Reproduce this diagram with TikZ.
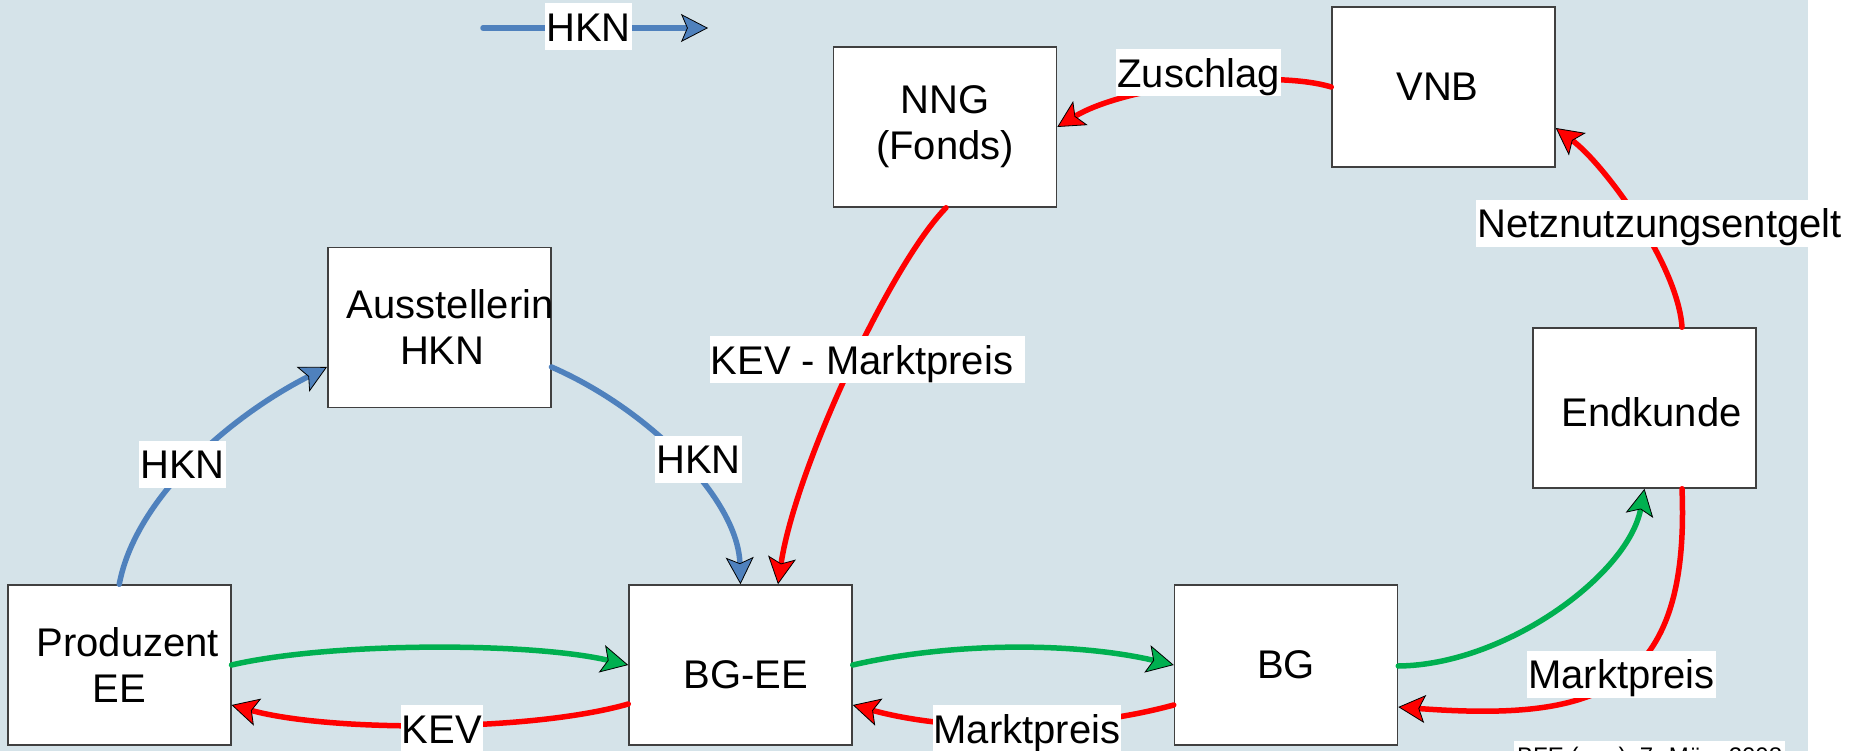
\documentclass[tikz,border=0pt]{standalone}
\usepackage{fontspec}
\setmainfont{Liberation Sans}
\usetikzlibrary{arrows.meta,calc}
\definecolor{bgblue}{RGB}{213,227,233}
\definecolor{pptred}{RGB}{255,0,0}
\definecolor{pptgreen}{RGB}{0,176,80}
\definecolor{pptblue}{RGB}{79,129,189}
\definecolor{boxgray}{RGB}{64,64,64}
\newcommand\dfont{\fontsize{40}{46}\selectfont}
\newcommand\sfont{\fontsize{24}{28}\selectfont}
\tikzset{
  box/.style={draw=boxgray, line width=1.5pt, fill=white, text width=223pt,
    minimum height=160pt, inner sep=0pt, align=center, font=\dfont},
  lbl/.style={fill=white, inner xsep=1pt, inner ysep=2pt, text height=36pt,
    text depth=7pt, font=\dfont},
  conn/.style={line width=5.5pt, line cap=round},
  redc/.style={conn, draw=pptred,
    -{Stealth[length=27pt,width=28pt,inset=6pt,line width=0.8pt,color=black,fill=pptred]}},
  greenc/.style={conn, draw=pptgreen,
    -{Stealth[length=27pt,width=28pt,inset=6pt,line width=0.8pt,color=black,fill=pptgreen]}},
  bluec/.style={conn, draw=pptblue,
    -{Stealth[length=27pt,width=28pt,inset=6pt,line width=0.8pt,color=black,fill=pptblue]}},
}
\begin{document}
\begin{tikzpicture}[x=1pt,y=-1pt]
\useasboundingbox (0,0) rectangle (1864,751);
\clip (0,0) rectangle (1864,751);
\fill[white] (0,0) rectangle (1864,751);
\fill[bgblue] (0,0) rectangle (1808,751);

% boxes
\node[box] (prod) at (119.25,665) {\hspace*{17pt}Produzent\\EE};
\node[box, text height=47pt, text depth=0pt] (bgee) at (740.5,665) {\hspace*{11pt}BG-EE};
\node[box] (bg) at (1286,665) {BG};
\node[box, text height=37pt, text depth=0pt] (endk) at (1644.5,408) {\hspace*{14pt}Endkunde};
\node[box] (vnb) at (1443.5,87) {\hspace*{-12pt}VNB};
\node[box] (nng) at (945,127) {NNG\\(Fonds)};
\node[box] (aus) at (439.25,327.5) {\hspace*{19pt}\mbox{Ausstellerin}\\\hspace*{6pt}HKN};

% legend
\coordinate (lgA) at (483,28);
\coordinate (lgB) at (708,28);
\draw[bluec] (lgA) -- (lgB);

% connectors
\draw[bluec] (prod.north) .. controls (135,500) and (227,418) .. ($(aus.west)+(0,39.5)$);
\draw[bluec] ($(aus.east)+(0,39.5)$) .. controls (650,410) and (738,500) .. (bgee.north);
\draw[redc] ($(nng.south)+(1,0)$) .. controls (890,265) and (795,470) .. ($(bgee.north)+(37.5,0)$);
\draw[redc] (vnb.west) .. controls (1272,69) and (1127,85) .. (nng.east);
\draw[redc] ($(endk.north)+(37.5,0)$) .. controls (1678,265) and (1605,165) .. ($(vnb.east)+(0,41)$);
\draw[greenc] ($(bg.east)+(0,1)$) .. controls (1505,665) and (1628,575) .. (endk.south);
\draw[redc] ($(endk.south)+(37.5,0)$) .. controls (1690,690) and (1600,722) .. ($(bg.east)+(0,42)$);
\draw[greenc] (prod.east) .. controls (330,642) and (530,642) .. (bgee.west);
\draw[greenc] (bgee.east) .. controls (952,642) and (1074,642) .. (bg.west);
\draw[redc] ($(bgee.west)+(0,39)$) .. controls (530,732) and (330,732) .. ($(prod.east)+(0,40)$);
\draw[redc] ($(bg.west)+(0,40)$) .. controls (1074,732) and (952,732) .. ($(bgee.east)+(0,40)$);

% labels
\node[lbl] (l1) at (588.5,27) {HKN};
\node[lbl] (l2) at (1198.5,73) {Zuschlag};
\node[lbl] (l3) at (182.5,464) {HKN};
\node[lbl] (l4) at (698.5,459) {HKN};
\node[lbl] (l5) at (867.5,359.5) {KEV - Marktpreis\hspace*{11pt}};
\node[lbl] (l6) at (1659.5,223.5) {Netznutzungsentgelt};
\node[lbl] (l7) at (1621.5,674) {Marktpreis};
\node[lbl] (l8) at (1027,728.5) {Marktpreis};
\node[lbl] (l9) at (442,728.5) {KEV};
\node[fill=white, font=\sfont, inner xsep=3pt, inner ysep=6pt, anchor=base west] (src) at (1514,764) {BFE (ene), 7. März 2008};
\end{tikzpicture}
\end{document}
